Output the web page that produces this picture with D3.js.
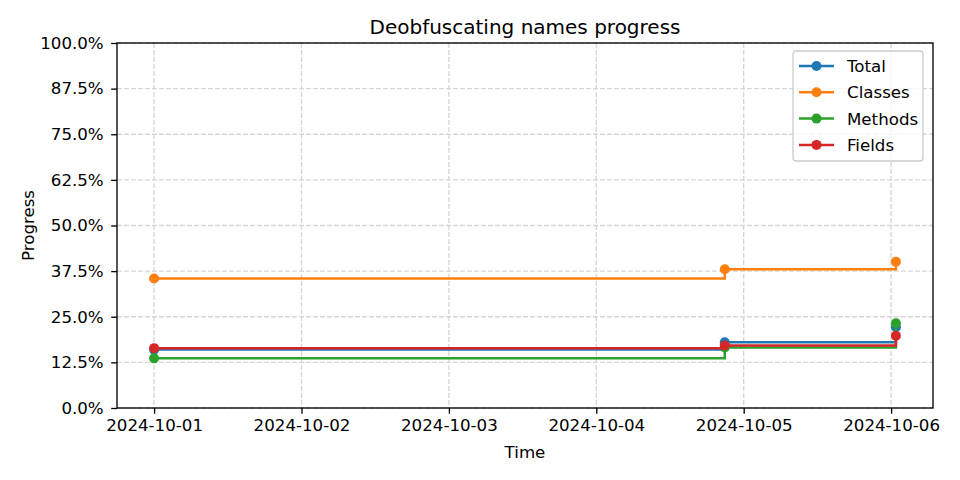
<!DOCTYPE html>
<html>
<head>
<meta charset="utf-8">
<script src="https://cdn.jsdelivr.net/npm/d3@7"></script>
<style>
  body { margin: 0; background: #fff; }
  text { font-family: "DejaVu Sans", sans-serif; fill: #000; }
</style>
</head>
<body>
<div id="chart"></div>
<script>
// data
var times = ["2024-10-01T00:00", "2024-10-04T20:55", "2024-10-06T00:47"];
var seriesNames = ["Total", "Classes", "Methods", "Fields"];
var totalVals = [0.160, 0.180, 0.221];
var classesVals = [0.355, 0.380, 0.401];
var methodsVals = [0.136, 0.166, 0.232];
var fieldsVals = [0.164, 0.171, 0.198];
var yTicks = [0, 0.125, 0.25, 0.375, 0.5, 0.625, 0.75, 0.875, 1];
var xTickDays = ["2024-10-01", "2024-10-02", "2024-10-03", "2024-10-04", "2024-10-05", "2024-10-06"];
var colors = ["#1f77b4", "#ff7f0e", "#2ca02c", "#d62728"];

var parse = d3.timeParse("%Y-%m-%dT%H:%M");
var parseDay = d3.timeParse("%Y-%m-%d");
var dates = times.map(parse);
var allVals = [totalVals, classesVals, methodsVals, fieldsVals];

var series = seriesNames.map(function (name, i) {
  return {
    name: name,
    color: colors[i],
    points: dates.map(function (d, j) { return {t: d, v: allVals[i][j]}; })
  };
});

var W = 960, H = 480;
// plot box (window.top is read-only, so don't call it "top")
var plotL = 117, plotR = 933, plotT = 43, plotB = 408;
var fs = 16.67;
var lw = 2.5, mr = 5;

var svg = d3.select("#chart").append("svg")
  .attr("width", W).attr("height", H);

// 5% margin on the time axis, like matplotlib
var t0 = dates[0].getTime(), t1 = dates[dates.length - 1].getTime();
var pad = (t1 - t0) * 0.05;
var x = d3.scaleTime()
  .domain([new Date(t0 - pad), new Date(t1 + pad)])
  .range([plotL, plotR]);
var y = d3.scaleLinear().domain([0, 1]).range([plotB, plotT]);

var xTicks = xTickDays.map(parseDay);

// grid
var grid = svg.append("g");
grid.selectAll(".gx").data(xTicks).enter().append("line")
  .attr("x1", function (d) { return x(d); })
  .attr("x2", function (d) { return x(d); })
  .attr("y1", plotT).attr("y2", plotB)
  .attr("stroke", "#d6d6d6").attr("stroke-width", 1.33)
  .attr("stroke-dasharray", "4.9,2.1");
grid.selectAll(".gy").data(yTicks).enter().append("line")
  .attr("x1", plotL).attr("x2", plotR)
  .attr("y1", function (d) { return y(d); })
  .attr("y2", function (d) { return y(d); })
  .attr("stroke", "#d6d6d6").attr("stroke-width", 1.33)
  .attr("stroke-dasharray", "4.9,2.1");

// lines
var line = d3.line()
  .x(function (d) { return x(d.t); })
  .y(function (d) { return y(d.v); })
  .curve(d3.curveStepAfter);

series.forEach(function (s) {
  var g = svg.append("g");
  g.append("path")
    .datum(s.points)
    .attr("d", line)
    .attr("fill", "none")
    .attr("stroke", s.color)
    .attr("stroke-width", lw);
  g.selectAll("circle").data(s.points).enter().append("circle")
    .attr("cx", function (d) { return x(d.t); })
    .attr("cy", function (d) { return y(d.v); })
    .attr("r", mr)
    .attr("fill", s.color);
});

// axes
var xAxis = d3.axisBottom(x)
  .tickValues(xTicks)
  .tickFormat(d3.timeFormat("%Y-%m-%d"))
  .tickSize(5.8).tickPadding(5.5);
var yAxis = d3.axisLeft(y)
  .tickValues(yTicks)
  .tickFormat(d3.format(".1%"))
  .tickSize(5.8).tickPadding(7.5);

var gx = svg.append("g").attr("transform", "translate(0," + plotB + ")").call(xAxis);
var gy = svg.append("g").attr("transform", "translate(" + plotL + ",0)").call(yAxis);
[gx, gy].forEach(function (g) {
  g.select(".domain").remove();
  g.selectAll(".tick line").attr("stroke", "#000").attr("stroke-width", 1.33);
  g.selectAll(".tick text")
    .attr("font-family", "DejaVu Sans, sans-serif")
    .attr("font-size", fs)
    .attr("fill", "#000");
});

// frame
svg.append("rect")
  .attr("x", plotL).attr("y", plotT)
  .attr("width", plotR - plotL).attr("height", plotB - plotT)
  .attr("fill", "none").attr("stroke", "#000").attr("stroke-width", 1.33);

// titles
svg.append("text")
  .attr("x", (plotL + plotR) / 2).attr("y", 34)
  .attr("text-anchor", "middle")
  .attr("font-size", 20)
  .text("Deobfuscating names progress");
svg.append("text")
  .attr("x", (plotL + plotR) / 2).attr("y", 458)
  .attr("text-anchor", "middle")
  .attr("font-size", fs)
  .text("Time");
svg.append("text")
  .attr("transform", "translate(34," + ((plotT + plotB) / 2) + ") rotate(-90)")
  .attr("text-anchor", "middle")
  .attr("font-size", fs)
  .text("Progress");

// legend
var lg = svg.append("g").attr("transform", "translate(793,51)");
lg.append("rect")
  .attr("width", 130).attr("height", 110)
  .attr("rx", 3)
  .attr("fill", "#fff").attr("fill-opacity", 0.8)
  .attr("stroke", "#cccccc").attr("stroke-width", 1.33);
var item = lg.selectAll(".item").data(series).enter().append("g")
  .attr("transform", function (d, i) { return "translate(0," + (15 + i * 26.3) + ")"; });
item.append("line")
  .attr("x1", 6).attr("x2", 41)
  .attr("stroke", function (d) { return d.color; })
  .attr("stroke-width", lw);
item.append("circle")
  .attr("cx", 23.5).attr("r", mr)
  .attr("fill", function (d) { return d.color; });
item.append("text")
  .attr("x", 54).attr("y", 6)
  .attr("font-size", fs)
  .text(function (d) { return d.name; });
</script>
</body>
</html>
